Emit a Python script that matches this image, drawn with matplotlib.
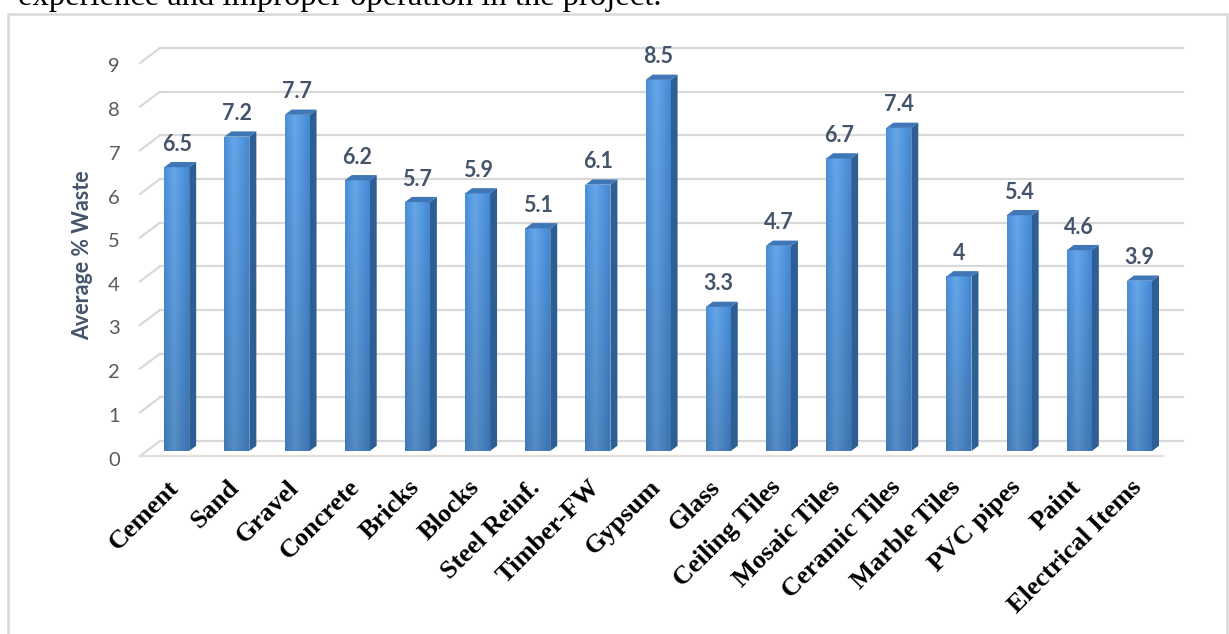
import numpy as np
import matplotlib
matplotlib.use("Agg")
import matplotlib.pyplot as plt
from matplotlib.patches import Polygon, Rectangle
from matplotlib.colors import to_rgb

# data
materials = ["Cement", "Sand", "Gravel", "Concrete", "Bricks", "Blocks",
             "Steel Reinf.", "Timber-FW", "Gypsum", "Glass", "Ceiling Tiles",
             "Mosaic Tiles", "Ceramic Tiles", "Marble Tiles", "PVC pipes",
             "Paint", "Electrical Items"]
waste = [6.5, 7.2, 7.7, 6.2, 5.7, 5.9, 5.1, 6.1, 8.5, 3.3, 4.7, 6.7, 7.4,
         4.0, 5.4, 4.6, 3.9]
value_labels = ["6.5", "7.2", "7.7", "6.2", "5.7", "5.9", "5.1", "6.1", "8.5",
                "3.3", "4.7", "6.7", "7.4", "4", "5.4", "4.6", "3.9"]
yticks = list(range(0, 10))

W, H = 1229, 634
fig = plt.figure(figsize=(W / 100, H / 100), dpi=100)


def px_box(l, t, r, b):
    return [l / W, 1 - b / H, (r - l) / W, (b - t) / H]


ax = fig.add_axes(px_box(140, 63, 1163, 456))
n = len(materials)
ax.set_xlim(0, n)
ax.set_ylim(0, 9)
ax.axis('off')

# pseudo 3d depth: back wall sits 20 px right and 15 px up from the front
pos = ax.get_position()
sx = n / (pos.width * W)
sy = 9 / (pos.height * H)


def depth(f):
    return 20 * f * sx, 15 * f * sy


bdx, bdy = depth(1.0)
grid_c = '#d9d9d9'
for k in yticks:
    ax.plot([bdx, n + bdx], [k + bdy, k + bdy], color=grid_c, lw=1.6,
            clip_on=False, zorder=1)
    ax.plot([0, bdx], [k, k + bdy], color=grid_c, lw=1.6, clip_on=False,
            zorder=1)
    ax.text(-20 * sx, k - 4 * sy, str(k), ha='right', va='center',
            fontsize=14.5, color='#595959', family='Lato', clip_on=False)
ax.plot([0, n], [0, 0], color='#e6dfd8', lw=1.6, clip_on=False, zorder=1.5)

# gradient for the bar front faces
left = np.array(to_rgb('#4585cb'))
mid = np.array(to_rgb('#5f9cda'))
right = np.array(to_rgb('#4080c6'))
xs = np.linspace(0, 1, 40)
row = np.array([left + (mid - left) * (x / 0.4) if x < 0.4 else
                mid + (right - mid) * ((x - 0.4) / 0.6) for x in xs])
vert = np.linspace(1.07, 0.9, 80)[:, None, None]
grad = np.clip(row[None, :, :] * vert, 0, 1)

bw = 0.415
fdx, fdy = depth(0.33)
ddx, ddy = depth(0.35)
for i, v in enumerate(waste):
    x0 = i + 0.5 - bw / 2 + fdx
    x1 = x0 + bw
    y0 = fdy
    y1 = v + fdy
    rect = ax.bar(x0, v, bw, bottom=y0, align='edge', color='#4f8fd3',
                  zorder=3, clip_on=False)[0]
    im = ax.imshow(grad, extent=(x0, x1, y0, y1), aspect='auto',
                   interpolation='bilinear', zorder=3.1)
    im.set_clip_path(rect)
    side = Polygon([(x1, y0), (x1, y1), (x1 + ddx, y1 + ddy), (x1 + ddx, y0 + ddy)],
                   closed=True, facecolor='#2e5f94', edgecolor='none',
                   zorder=3, clip_on=False)
    top = Polygon([(x0, y1), (x1, y1), (x1 + ddx, y1 + ddy), (x0 + ddx, y1 + ddy)],
                  closed=True, facecolor='#3f76b5', edgecolor='none',
                  zorder=3.2, clip_on=False)
    ax.add_patch(side)
    ax.add_patch(top)
    ax.annotate(value_labels[i], xy=((x0 + x1) / 2, y1), xytext=(0, 23),
                textcoords='offset pixels', ha='center', va='center',
                fontsize=15.5, fontweight='bold', color='#44546a',
                family='Lato', annotation_clip=False)
    ax.annotate(materials[i], xy=(i + 0.5, 0), xytext=(5, -28),
                textcoords='offset pixels', ha='right', va='center',
                rotation=45, rotation_mode='anchor', fontsize=19,
                fontweight='bold', color='black', family='Liberation Serif',
                annotation_clip=False)

ax.set_xlim(0, n)
ax.set_ylim(0, 9)

fig.text(83 / W, 1 - 255 / H, 'Average % Waste', rotation=90, ha='center',
         va='center', fontsize=15.5, fontweight='bold', color='#44546a',
         family='Lato')

fig.text(18 / W, 1 - 5 / H, 'experience and improper operation in the project.',
         ha='left', va='baseline', fontsize=23.5, family='Liberation Serif',
         color='black')

fig.patches.append(Rectangle((8 / W, 1 - 640 / H), 1219 / W, 626 / H,
                             transform=fig.transFigure, fill=False,
                             edgecolor='#d9d9d9', lw=1.8))

fig.savefig('out.png', dpi=100)
